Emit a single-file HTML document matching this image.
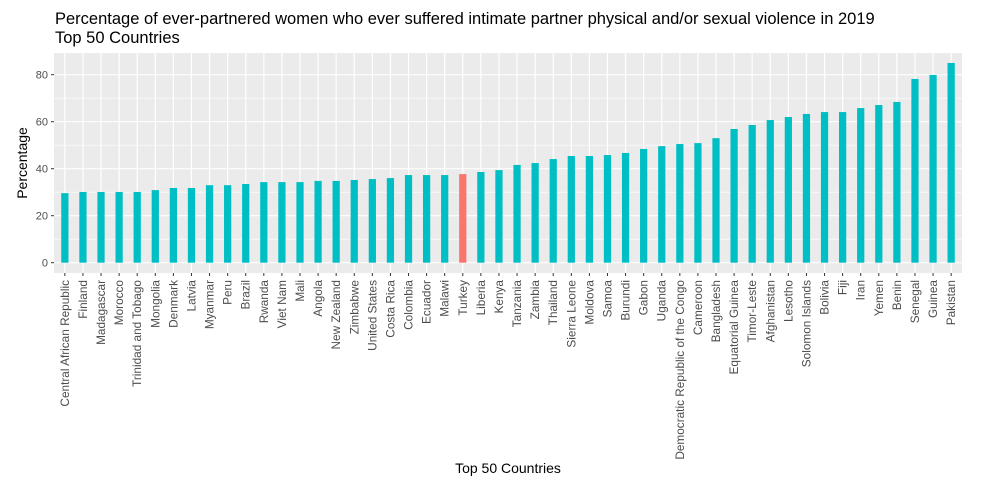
<!DOCTYPE html>
<html><head><meta charset="utf-8"><style>
body{margin:0;background:#fff;}
svg{display:block;font-family:"Liberation Sans",Arial,sans-serif;}
</style></head><body>
<svg id="chart" width="998" height="491">
<text x="55" y="24" font-size="16.5" fill="#000">Percentage of ever-partnered women who ever suffered intimate partner physical and/or sexual violence in 2019</text>
<text x="55" y="43" font-size="16.5" fill="#000">Top 50 Countries</text>
<text transform="translate(27,163) rotate(-90)" text-anchor="middle" font-size="14" fill="#000">Percentage</text>
<text x="508" y="473" text-anchor="middle" font-size="14" fill="#000">Top 50 Countries</text>
<g id="plot"></g>
</svg>
<script>
const categories=["Central African Republic","Finland","Madagascar","Morocco","Trinidad and Tobago","Mongolia","Denmark","Latvia","Myanmar","Peru","Brazil","Rwanda","Viet Nam","Mali","Angola","New Zealand","Zimbabwe","United States","Costa Rica","Colombia","Ecuador","Malawi","Turkey","Liberia","Kenya","Tanzania","Zambia","Thailand","Sierra Leone","Moldova","Samoa","Burundi","Gabon","Uganda","Democratic Republic of the Congo","Cameroon","Bangladesh","Equatorial Guinea","Timor-Leste","Afghanistan","Lesotho","Solomon Islands","Bolivia","Fiji","Iran","Yemen","Benin","Senegal","Guinea","Pakistan"];
const values=[29.6,30.1,30.1,30.1,30.1,30.9,31.8,31.8,33.0,33.0,33.5,34.3,34.3,34.3,34.8,34.8,35.2,35.6,36.0,37.3,37.3,37.3,37.7,38.6,39.4,41.6,42.4,44.1,45.4,45.4,45.8,46.7,48.4,49.6,50.5,50.9,53.0,56.9,58.6,60.7,62.0,63.3,64.1,64.1,65.8,67.1,68.4,78.2,79.9,85.0];
const highlight=["Turkey"];
const yTicks=[0,20,40,60,80];
const NS="http://www.w3.org/2000/svg";
const L=54,R=962,T=53,B=273;
const y0=262.7,pxPerUnit=2.35;
const step=(R-L)/(categories.length+0.2);
const xs=i=>L+step*0.6+i*step;
const ys=v=>y0-v*pxPerUnit;
const g=document.getElementById('plot');
function mk(tag,attrs){const e=document.createElementNS(NS,tag);for(const k in attrs)e.setAttribute(k,attrs[k]);g.appendChild(e);return e;}
const bg=mk('rect',{x:L,y:T,width:R-L,height:B-T,fill:'#ebebeb'});


for(let i=0;i<yTicks.length-1;i++){const v=(yTicks[i]+yTicks[i+1])/2;mk('line',{x1:L,x2:R,y1:ys(v),y2:ys(v),stroke:'#fff','stroke-width':0.6});}
mk('line',{x1:L,x2:R,y1:ys(90),y2:ys(90),stroke:'#fff','stroke-width':0.6});
yTicks.forEach(v=>{
 const ln=mk('line',{x1:L,x2:R,y1:ys(v),y2:ys(v),stroke:'#fff','stroke-width':1.2});
 
 
 mk('line',{x1:L-3,x2:L,y1:ys(v),y2:ys(v),stroke:'#333','stroke-width':1});
 const t=mk('text',{x:L-6,y:ys(v)+4,'text-anchor':'end','font-size':11,fill:'#4d4d4d'});
 t.textContent=v;
 
 
});
categories.forEach((c,i)=>{
 const x=xs(i);
 mk('line',{x1:x,x2:x,y1:T,y2:B,stroke:'#fff','stroke-width':1.2});
});
categories.forEach((c,i)=>{
 const x=xs(i),bw=step*0.4;
 const r=mk('rect',{x:x-bw/2,y:ys(values[i]),width:bw,height:ys(0)-ys(values[i]),fill:highlight.includes(c)?'#f8766d':'#00bfc4'});
 
 
 mk('line',{x1:x,x2:x,y1:B,y2:B+3,stroke:'#333','stroke-width':1});
 const t=mk('text',{transform:`translate(${x+4},${B+7}) rotate(-90)`,'text-anchor':'end','font-size':11.8,fill:'#4d4d4d'});
 t.textContent=c;
 
 
});
</script>
</body></html>
